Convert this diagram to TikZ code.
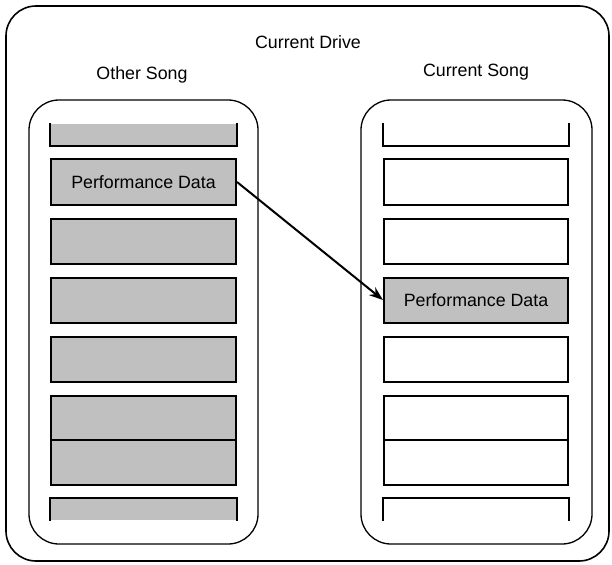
\documentclass[tikz,border=0pt]{standalone}
\usepackage{fontspec}
\setmainfont{Liberation Sans}
\usetikzlibrary{positioning, arrows, arrows.meta}
\definecolor{slotgray}{HTML}{C0C0C0}
\tikzset{
	x=1pt, y=-1pt, % one unit is one pixel of the picture
	>={Stealth[length=14pt, width=10pt]}, % makes the arrow heads bold
	node distance=12pt, % gap between two slots
	every node/.style={font=\fontsize{17.8}{20}\selectfont},
	slot/.style={draw, line width=2pt, minimum width=185pt, minimum height=45pt, inner sep=0pt}, % one slot of a song
	full/.style={slot, fill=slotgray}, % a slot with data in it
	empty/.style={slot, fill=white}, % a slot with nothing in it
	songbox/.style={draw, line width=1.3pt, rounded corners=30pt, inner sep=0pt}, % the frame round a song
}

\begin{document}
\begin{tikzpicture}
	\useasboundingbox (0,0) rectangle (612,564);
	\node[songbox, line width=1.6pt, minimum width=603pt, minimum height=555pt] (drive) at (307.5,283.5) {};
	\node (drivename) at (308,42) {Current Drive};
	\node (othername) at (142,75) {Other Song};
	\node (currentname) at (476,72) {Current Song};
	\node[songbox, minimum width=229pt, minimum height=444pt] (other) at (143.5,322) {};
	\node[songbox, minimum width=231pt, minimum height=444pt] (current) at (476.5,322) {};
	% slots of the other song
	\node[full] (l1) at (143.5,182) {Performance Data};
	\node[full, below=of l1] (l2) {};
	\node[full, below=of l2] (l3) {};
	\node[full, below=of l3] (l4) {};
	\node[full, minimum height=89pt, below=of l4] (l5) {};
	\node[full, draw=none, minimum height=21pt, above=of l1] (l0) {};
	\node[full, draw=none, minimum height=21pt, below=of l5] (l6) {};
	\draw[line width=1.3pt] (l5.west) -- (l5.east);
	\draw[line width=2pt] (l0.north west) -- (l0.south west) -- (l0.south east) -- (l0.north east);
	\draw[line width=2pt] (l6.south west) -- (l6.north west) -- (l6.north east) -- (l6.south east);
	% slots of the current song
	\node[empty, minimum width=184pt] (r1) at (476,182) {};
	\node[empty, minimum width=184pt, below=of r1] (r2) {};
	\node[full, minimum width=184pt, below=of r2] (r3) {Performance Data};
	\node[empty, minimum width=184pt, below=of r3] (r4) {};
	\node[empty, minimum width=184pt, minimum height=89pt, below=of r4] (r5) {};
	\node[empty, minimum width=184pt, draw=none, minimum height=21pt, above=of r1] (r0) {};
	\node[empty, minimum width=184pt, draw=none, minimum height=21pt, below=of r5] (r6) {};
	\draw[line width=1.3pt] (r5.west) -- (r5.east);
	\draw[line width=2pt] (r0.north west) -- (r0.south west) -- (r0.south east) -- (r0.north east);
	\draw[line width=2pt] (r6.south west) -- (r6.north west) -- (r6.north east) -- (r6.south east);
	\draw[->, line width=2pt] (l1.east) -- (r3.west);
\end{tikzpicture}
\end{document}
